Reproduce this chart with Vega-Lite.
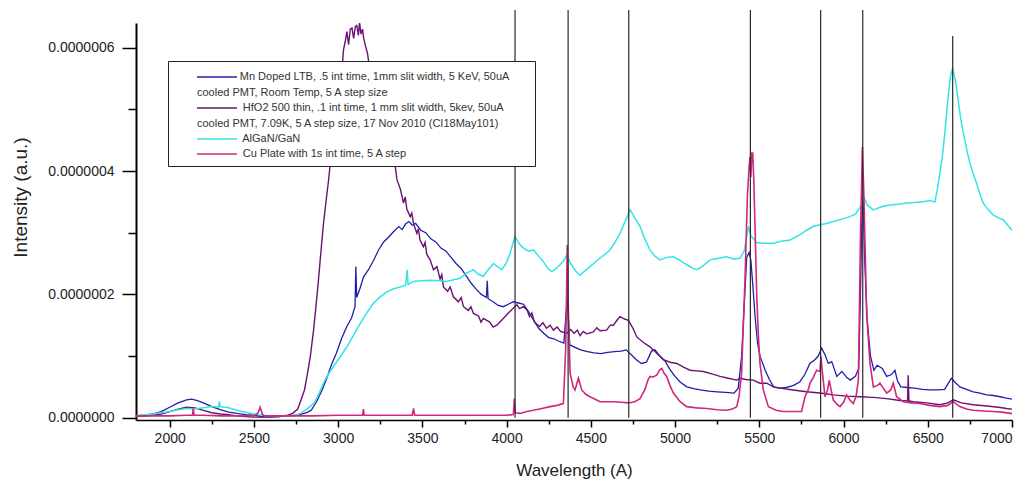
{
  "$schema": "https://vega.github.io/schema/vega-lite/v6.json",
  "width": 876,
  "height": 397,
  "autosize": {"type": "none"},
  "padding": {"left": 136, "top": 23, "right": 18, "bottom": 61},
  "background": "white",
  "config": {
    "view": {"stroke": null},
    "font": "Liberation Sans",
    "style": {"guide-label": {"lineHeight": 15.5}}
  },
  "datasets": {
    "lines": [
      {"w": 4050, "top": 6.61e-7}, {"w": 4365, "top": 6.61e-7}, {"w": 4725, "top": 6.61e-7},
      {"w": 5447, "top": 6.61e-7}, {"w": 5864, "top": 6.61e-7}, {"w": 6114, "top": 6.61e-7},
      {"w": 6648, "top": 6.19e-7}
    ],
    "spectra": [
      {"s":"Mn","w":1800,"v":0.03e-7},{"s":"Mn","w":1850,"v":0.04e-7},{"s":"Mn","w":1900,"v":0.06e-7},{"s":"Mn","w":1950,"v":0.10e-7},{"s":"Mn","w":2000,"v":0.17e-7},{"s":"Mn","w":2050,"v":0.24e-7},{"s":"Mn","w":2100,"v":0.29e-7},{"s":"Mn","w":2130,"v":0.30e-7},{"s":"Mn","w":2160,"v":0.28e-7},{"s":"Mn","w":2200,"v":0.24e-7},{"s":"Mn","w":2250,"v":0.18e-7},{"s":"Mn","w":2300,"v":0.13e-7},{"s":"Mn","w":2350,"v":0.09e-7},{"s":"Mn","w":2400,"v":0.07e-7},{"s":"Mn","w":2450,"v":0.05e-7},{"s":"Mn","w":2500,"v":0.04e-7},{"s":"Mn","w":2550,"v":0.02e-7},{"s":"Mn","w":2600,"v":0.02e-7},{"s":"Mn","w":2650,"v":0.02e-7},{"s":"Mn","w":2700,"v":0.03e-7},{"s":"Mn","w":2750,"v":0.04e-7},{"s":"Mn","w":2780,"v":0.06e-7},{"s":"Mn","w":2810,"v":0.08e-7},{"s":"Mn","w":2840,"v":0.12e-7},{"s":"Mn","w":2870,"v":0.25e-7},{"s":"Mn","w":2900,"v":0.42e-7},{"s":"Mn","w":2930,"v":0.62e-7},{"s":"Mn","w":2960,"v":0.86e-7},{"s":"Mn","w":2990,"v":1.05e-7},{"s":"Mn","w":3020,"v":1.28e-7},{"s":"Mn","w":3050,"v":1.47e-7},{"s":"Mn","w":3080,"v":1.62e-7},{"s":"Mn","w":3100,"v":1.80e-7},{"s":"Mn","w":3105,"v":2.45e-7},{"s":"Mn","w":3110,"v":1.95e-7},{"s":"Mn","w":3130,"v":2.10e-7},{"s":"Mn","w":3150,"v":2.28e-7},{"s":"Mn","w":3180,"v":2.40e-7},{"s":"Mn","w":3210,"v":2.55e-7},{"s":"Mn","w":3240,"v":2.72e-7},{"s":"Mn","w":3270,"v":2.85e-7},{"s":"Mn","w":3300,"v":2.93e-7},{"s":"Mn","w":3330,"v":3.02e-7},{"s":"Mn","w":3360,"v":3.10e-7},{"s":"Mn","w":3380,"v":3.05e-7},{"s":"Mn","w":3400,"v":3.14e-7},{"s":"Mn","w":3420,"v":3.18e-7},{"s":"Mn","w":3440,"v":3.12e-7},{"s":"Mn","w":3460,"v":3.15e-7},{"s":"Mn","w":3490,"v":3.04e-7},{"s":"Mn","w":3520,"v":3.00e-7},{"s":"Mn","w":3550,"v":2.90e-7},{"s":"Mn","w":3580,"v":2.85e-7},{"s":"Mn","w":3610,"v":2.75e-7},{"s":"Mn","w":3640,"v":2.70e-7},{"s":"Mn","w":3670,"v":2.60e-7},{"s":"Mn","w":3700,"v":2.50e-7},{"s":"Mn","w":3730,"v":2.42e-7},{"s":"Mn","w":3760,"v":2.30e-7},{"s":"Mn","w":3790,"v":2.18e-7},{"s":"Mn","w":3820,"v":2.08e-7},{"s":"Mn","w":3850,"v":2.00e-7},{"s":"Mn","w":3880,"v":1.95e-7},{"s":"Mn","w":3885,"v":2.22e-7},{"s":"Mn","w":3890,"v":1.93e-7},{"s":"Mn","w":3920,"v":1.88e-7},{"s":"Mn","w":3950,"v":1.82e-7},{"s":"Mn","w":3980,"v":1.80e-7},{"s":"Mn","w":4010,"v":1.84e-7},{"s":"Mn","w":4040,"v":1.88e-7},{"s":"Mn","w":4070,"v":1.86e-7},{"s":"Mn","w":4100,"v":1.84e-7},{"s":"Mn","w":4130,"v":1.72e-7},{"s":"Mn","w":4160,"v":1.58e-7},{"s":"Mn","w":4190,"v":1.45e-7},{"s":"Mn","w":4220,"v":1.37e-7},{"s":"Mn","w":4250,"v":1.30e-7},{"s":"Mn","w":4280,"v":1.28e-7},{"s":"Mn","w":4310,"v":1.24e-7},{"s":"Mn","w":4340,"v":1.21e-7},{"s":"Mn","w":4360,"v":1.95e-7},{"s":"Mn","w":4375,"v":1.18e-7},{"s":"Mn","w":4400,"v":1.15e-7},{"s":"Mn","w":4440,"v":1.10e-7},{"s":"Mn","w":4480,"v":1.07e-7},{"s":"Mn","w":4520,"v":1.05e-7},{"s":"Mn","w":4560,"v":1.04e-7},{"s":"Mn","w":4600,"v":1.06e-7},{"s":"Mn","w":4640,"v":1.07e-7},{"s":"Mn","w":4680,"v":1.08e-7},{"s":"Mn","w":4710,"v":1.10e-7},{"s":"Mn","w":4740,"v":1.02e-7},{"s":"Mn","w":4770,"v":0.94e-7},{"s":"Mn","w":4800,"v":0.88e-7},{"s":"Mn","w":4830,"v":0.90e-7},{"s":"Mn","w":4860,"v":1.08e-7},{"s":"Mn","w":4880,"v":1.10e-7},{"s":"Mn","w":4910,"v":1.00e-7},{"s":"Mn","w":4940,"v":0.92e-7},{"s":"Mn","w":4970,"v":0.78e-7},{"s":"Mn","w":5000,"v":0.67e-7},{"s":"Mn","w":5030,"v":0.58e-7},{"s":"Mn","w":5070,"v":0.50e-7},{"s":"Mn","w":5110,"v":0.47e-7},{"s":"Mn","w":5150,"v":0.45e-7},{"s":"Mn","w":5200,"v":0.43e-7},{"s":"Mn","w":5250,"v":0.42e-7},{"s":"Mn","w":5300,"v":0.41e-7},{"s":"Mn","w":5350,"v":0.40e-7},{"s":"Mn","w":5375,"v":0.48e-7},{"s":"Mn","w":5395,"v":1.00e-7},{"s":"Mn","w":5410,"v":1.80e-7},{"s":"Mn","w":5425,"v":2.60e-7},{"s":"Mn","w":5440,"v":2.68e-7},{"s":"Mn","w":5450,"v":2.55e-7},{"s":"Mn","w":5460,"v":2.20e-7},{"s":"Mn","w":5475,"v":1.64e-7},{"s":"Mn","w":5490,"v":1.20e-7},{"s":"Mn","w":5505,"v":0.99e-7},{"s":"Mn","w":5535,"v":0.77e-7},{"s":"Mn","w":5560,"v":0.62e-7},{"s":"Mn","w":5585,"v":0.50e-7},{"s":"Mn","w":5620,"v":0.48e-7},{"s":"Mn","w":5660,"v":0.49e-7},{"s":"Mn","w":5700,"v":0.52e-7},{"s":"Mn","w":5740,"v":0.58e-7},{"s":"Mn","w":5770,"v":0.70e-7},{"s":"Mn","w":5800,"v":0.88e-7},{"s":"Mn","w":5830,"v":0.94e-7},{"s":"Mn","w":5850,"v":1.00e-7},{"s":"Mn","w":5870,"v":1.13e-7},{"s":"Mn","w":5890,"v":1.02e-7},{"s":"Mn","w":5910,"v":0.88e-7},{"s":"Mn","w":5930,"v":0.91e-7},{"s":"Mn","w":5960,"v":0.67e-7},{"s":"Mn","w":5990,"v":0.75e-7},{"s":"Mn","w":6020,"v":0.65e-7},{"s":"Mn","w":6040,"v":0.61e-7},{"s":"Mn","w":6070,"v":0.67e-7},{"s":"Mn","w":6090,"v":0.80e-7},{"s":"Mn","w":6100,"v":1.96e-7},{"s":"Mn","w":6110,"v":3.40e-7},{"s":"Mn","w":6116,"v":3.58e-7},{"s":"Mn","w":6125,"v":2.60e-7},{"s":"Mn","w":6140,"v":1.60e-7},{"s":"Mn","w":6160,"v":1.00e-7},{"s":"Mn","w":6180,"v":0.77e-7},{"s":"Mn","w":6200,"v":0.85e-7},{"s":"Mn","w":6230,"v":0.80e-7},{"s":"Mn","w":6256,"v":0.67e-7},{"s":"Mn","w":6285,"v":0.70e-7},{"s":"Mn","w":6305,"v":0.77e-7},{"s":"Mn","w":6320,"v":0.60e-7},{"s":"Mn","w":6340,"v":0.50e-7},{"s":"Mn","w":6380,"v":0.49e-7},{"s":"Mn","w":6420,"v":0.48e-7},{"s":"Mn","w":6470,"v":0.46e-7},{"s":"Mn","w":6510,"v":0.45e-7},{"s":"Mn","w":6560,"v":0.45e-7},{"s":"Mn","w":6600,"v":0.46e-7},{"s":"Mn","w":6620,"v":0.55e-7},{"s":"Mn","w":6640,"v":0.64e-7},{"s":"Mn","w":6660,"v":0.58e-7},{"s":"Mn","w":6690,"v":0.50e-7},{"s":"Mn","w":6730,"v":0.46e-7},{"s":"Mn","w":6770,"v":0.42e-7},{"s":"Mn","w":6810,"v":0.40e-7},{"s":"Mn","w":6850,"v":0.37e-7},{"s":"Mn","w":6890,"v":0.36e-7},{"s":"Mn","w":6930,"v":0.34e-7},{"s":"Mn","w":6960,"v":0.32e-7},{"s":"Mn","w":7000,"v":0.30e-7},

      {"s":"HfO2","w":1800,"v":0.02e-7},{"s":"HfO2","w":1900,"v":0.04e-7},{"s":"HfO2","w":1950,"v":0.06e-7},{"s":"HfO2","w":2000,"v":0.10e-7},{"s":"HfO2","w":2050,"v":0.14e-7},{"s":"HfO2","w":2100,"v":0.17e-7},{"s":"HfO2","w":2150,"v":0.16e-7},{"s":"HfO2","w":2200,"v":0.12e-7},{"s":"HfO2","w":2250,"v":0.08e-7},{"s":"HfO2","w":2300,"v":0.06e-7},{"s":"HfO2","w":2350,"v":0.05e-7},{"s":"HfO2","w":2400,"v":0.03e-7},{"s":"HfO2","w":2450,"v":0.02e-7},{"s":"HfO2","w":2500,"v":0.01e-7},{"s":"HfO2","w":2550,"v":0.01e-7},{"s":"HfO2","w":2600,"v":0.01e-7},{"s":"HfO2","w":2650,"v":0.02e-7},{"s":"HfO2","w":2700,"v":0.04e-7},{"s":"HfO2","w":2730,"v":0.07e-7},{"s":"HfO2","w":2760,"v":0.14e-7},{"s":"HfO2","w":2780,"v":0.29e-7},{"s":"HfO2","w":2800,"v":0.45e-7},{"s":"HfO2","w":2815,"v":0.67e-7},{"s":"HfO2","w":2835,"v":1.00e-7},{"s":"HfO2","w":2854,"v":1.42e-7},{"s":"HfO2","w":2870,"v":1.85e-7},{"s":"HfO2","w":2883,"v":2.23e-7},{"s":"HfO2","w":2898,"v":2.70e-7},{"s":"HfO2","w":2913,"v":3.15e-7},{"s":"HfO2","w":2930,"v":3.55e-7},{"s":"HfO2","w":2943,"v":3.85e-7},{"s":"HfO2","w":2960,"v":4.30e-7},{"s":"HfO2","w":2980,"v":4.80e-7},{"s":"HfO2","w":3000,"v":5.20e-7},{"s":"HfO2","w":3020,"v":5.55e-7},{"s":"HfO2","w":3032,"v":5.97e-7},{"s":"HfO2","w":3042,"v":6.10e-7},{"s":"HfO2","w":3052,"v":6.26e-7},{"s":"HfO2","w":3062,"v":6.05e-7},{"s":"HfO2","w":3072,"v":6.30e-7},{"s":"HfO2","w":3082,"v":6.32e-7},{"s":"HfO2","w":3092,"v":6.15e-7},{"s":"HfO2","w":3102,"v":6.34e-7},{"s":"HfO2","w":3111,"v":6.36e-7},{"s":"HfO2","w":3120,"v":6.20e-7},{"s":"HfO2","w":3127,"v":6.40e-7},{"s":"HfO2","w":3136,"v":6.22e-7},{"s":"HfO2","w":3145,"v":6.30e-7},{"s":"HfO2","w":3150,"v":6.18e-7},{"s":"HfO2","w":3160,"v":6.05e-7},{"s":"HfO2","w":3174,"v":5.91e-7},{"s":"HfO2","w":3185,"v":5.70e-7},{"s":"HfO2","w":3220,"v":5.20e-7},{"s":"HfO2","w":3260,"v":4.70e-7},{"s":"HfO2","w":3300,"v":4.35e-7},{"s":"HfO2","w":3339,"v":4.07e-7},{"s":"HfO2","w":3349,"v":3.86e-7},{"s":"HfO2","w":3370,"v":3.70e-7},{"s":"HfO2","w":3388,"v":3.48e-7},{"s":"HfO2","w":3398,"v":3.58e-7},{"s":"HfO2","w":3408,"v":3.38e-7},{"s":"HfO2","w":3428,"v":3.26e-7},{"s":"HfO2","w":3437,"v":3.32e-7},{"s":"HfO2","w":3447,"v":3.15e-7},{"s":"HfO2","w":3467,"v":2.99e-7},{"s":"HfO2","w":3476,"v":3.06e-7},{"s":"HfO2","w":3486,"v":2.88e-7},{"s":"HfO2","w":3506,"v":2.77e-7},{"s":"HfO2","w":3516,"v":2.84e-7},{"s":"HfO2","w":3526,"v":2.65e-7},{"s":"HfO2","w":3546,"v":2.56e-7},{"s":"HfO2","w":3566,"v":2.40e-7},{"s":"HfO2","w":3586,"v":2.45e-7},{"s":"HfO2","w":3605,"v":2.25e-7},{"s":"HfO2","w":3615,"v":2.32e-7},{"s":"HfO2","w":3625,"v":2.12e-7},{"s":"HfO2","w":3650,"v":2.05e-7},{"s":"HfO2","w":3665,"v":2.12e-7},{"s":"HfO2","w":3684,"v":1.96e-7},{"s":"HfO2","w":3714,"v":1.88e-7},{"s":"HfO2","w":3730,"v":1.95e-7},{"s":"HfO2","w":3744,"v":1.80e-7},{"s":"HfO2","w":3773,"v":1.74e-7},{"s":"HfO2","w":3788,"v":1.80e-7},{"s":"HfO2","w":3803,"v":1.69e-7},{"s":"HfO2","w":3833,"v":1.65e-7},{"s":"HfO2","w":3848,"v":1.55e-7},{"s":"HfO2","w":3862,"v":1.61e-7},{"s":"HfO2","w":3900,"v":1.55e-7},{"s":"HfO2","w":3920,"v":1.47e-7},{"s":"HfO2","w":3942,"v":1.50e-7},{"s":"HfO2","w":3970,"v":1.58e-7},{"s":"HfO2","w":4001,"v":1.67e-7},{"s":"HfO2","w":4030,"v":1.75e-7},{"s":"HfO2","w":4061,"v":1.83e-7},{"s":"HfO2","w":4077,"v":1.77e-7},{"s":"HfO2","w":4100,"v":1.80e-7},{"s":"HfO2","w":4120,"v":1.75e-7},{"s":"HfO2","w":4136,"v":1.64e-7},{"s":"HfO2","w":4150,"v":1.70e-7},{"s":"HfO2","w":4165,"v":1.55e-7},{"s":"HfO2","w":4196,"v":1.48e-7},{"s":"HfO2","w":4215,"v":1.54e-7},{"s":"HfO2","w":4237,"v":1.45e-7},{"s":"HfO2","w":4258,"v":1.50e-7},{"s":"HfO2","w":4278,"v":1.42e-7},{"s":"HfO2","w":4300,"v":1.47e-7},{"s":"HfO2","w":4320,"v":1.40e-7},{"s":"HfO2","w":4357,"v":1.37e-7},{"s":"HfO2","w":4380,"v":1.43e-7},{"s":"HfO2","w":4400,"v":1.37e-7},{"s":"HfO2","w":4420,"v":1.42e-7},{"s":"HfO2","w":4436,"v":1.33e-7},{"s":"HfO2","w":4455,"v":1.40e-7},{"s":"HfO2","w":4475,"v":1.36e-7},{"s":"HfO2","w":4515,"v":1.39e-7},{"s":"HfO2","w":4535,"v":1.46e-7},{"s":"HfO2","w":4555,"v":1.41e-7},{"s":"HfO2","w":4594,"v":1.42e-7},{"s":"HfO2","w":4615,"v":1.50e-7},{"s":"HfO2","w":4634,"v":1.50e-7},{"s":"HfO2","w":4655,"v":1.58e-7},{"s":"HfO2","w":4673,"v":1.64e-7},{"s":"HfO2","w":4700,"v":1.60e-7},{"s":"HfO2","w":4723,"v":1.58e-7},{"s":"HfO2","w":4750,"v":1.45e-7},{"s":"HfO2","w":4773,"v":1.31e-7},{"s":"HfO2","w":4812,"v":1.22e-7},{"s":"HfO2","w":4851,"v":1.15e-7},{"s":"HfO2","w":4890,"v":1.05e-7},{"s":"HfO2","w":4930,"v":0.94e-7},{"s":"HfO2","w":4970,"v":0.90e-7},{"s":"HfO2","w":5010,"v":0.88e-7},{"s":"HfO2","w":5050,"v":0.82e-7},{"s":"HfO2","w":5089,"v":0.77e-7},{"s":"HfO2","w":5128,"v":0.76e-7},{"s":"HfO2","w":5168,"v":0.75e-7},{"s":"HfO2","w":5218,"v":0.71e-7},{"s":"HfO2","w":5267,"v":0.67e-7},{"s":"HfO2","w":5316,"v":0.64e-7},{"s":"HfO2","w":5366,"v":0.61e-7},{"s":"HfO2","w":5386,"v":0.64e-7},{"s":"HfO2","w":5420,"v":0.62e-7},{"s":"HfO2","w":5464,"v":0.61e-7},{"s":"HfO2","w":5504,"v":0.56e-7},{"s":"HfO2","w":5544,"v":0.56e-7},{"s":"HfO2","w":5583,"v":0.50e-7},{"s":"HfO2","w":5623,"v":0.48e-7},{"s":"HfO2","w":5700,"v":0.45e-7},{"s":"HfO2","w":5781,"v":0.42e-7},{"s":"HfO2","w":5860,"v":0.40e-7},{"s":"HfO2","w":5939,"v":0.37e-7},{"s":"HfO2","w":6018,"v":0.35e-7},{"s":"HfO2","w":6097,"v":0.34e-7},{"s":"HfO2","w":6176,"v":0.33e-7},{"s":"HfO2","w":6256,"v":0.31e-7},{"s":"HfO2","w":6335,"v":0.28e-7},{"s":"HfO2","w":6380,"v":0.27e-7},{"s":"HfO2","w":6384,"v":0.69e-7},{"s":"HfO2","w":6388,"v":0.27e-7},{"s":"HfO2","w":6414,"v":0.26e-7},{"s":"HfO2","w":6493,"v":0.24e-7},{"s":"HfO2","w":6572,"v":0.21e-7},{"s":"HfO2","w":6620,"v":0.24e-7},{"s":"HfO2","w":6651,"v":0.29e-7},{"s":"HfO2","w":6700,"v":0.24e-7},{"s":"HfO2","w":6770,"v":0.21e-7},{"s":"HfO2","w":6850,"v":0.19e-7},{"s":"HfO2","w":6920,"v":0.17e-7},{"s":"HfO2","w":6968,"v":0.15e-7},{"s":"HfO2","w":7000,"v":0.14e-7},

      {"s":"AlGaN","w":1800,"v":0.03e-7},{"s":"AlGaN","w":1900,"v":0.06e-7},{"s":"AlGaN","w":2000,"v":0.10e-7},{"s":"AlGaN","w":2050,"v":0.13e-7},{"s":"AlGaN","w":2100,"v":0.15e-7},{"s":"AlGaN","w":2150,"v":0.14e-7},{"s":"AlGaN","w":2200,"v":0.16e-7},{"s":"AlGaN","w":2250,"v":0.18e-7},{"s":"AlGaN","w":2290,"v":0.17e-7},{"s":"AlGaN","w":2295,"v":0.26e-7},{"s":"AlGaN","w":2300,"v":0.18e-7},{"s":"AlGaN","w":2350,"v":0.16e-7},{"s":"AlGaN","w":2400,"v":0.12e-7},{"s":"AlGaN","w":2450,"v":0.09e-7},{"s":"AlGaN","w":2500,"v":0.06e-7},{"s":"AlGaN","w":2550,"v":0.04e-7},{"s":"AlGaN","w":2600,"v":0.03e-7},{"s":"AlGaN","w":2650,"v":0.03e-7},{"s":"AlGaN","w":2700,"v":0.03e-7},{"s":"AlGaN","w":2750,"v":0.04e-7},{"s":"AlGaN","w":2775,"v":0.07e-7},{"s":"AlGaN","w":2810,"v":0.13e-7},{"s":"AlGaN","w":2854,"v":0.23e-7},{"s":"AlGaN","w":2880,"v":0.35e-7},{"s":"AlGaN","w":2913,"v":0.56e-7},{"s":"AlGaN","w":2940,"v":0.70e-7},{"s":"AlGaN","w":2972,"v":0.83e-7},{"s":"AlGaN","w":3010,"v":0.98e-7},{"s":"AlGaN","w":3052,"v":1.15e-7},{"s":"AlGaN","w":3090,"v":1.33e-7},{"s":"AlGaN","w":3131,"v":1.53e-7},{"s":"AlGaN","w":3170,"v":1.70e-7},{"s":"AlGaN","w":3210,"v":1.86e-7},{"s":"AlGaN","w":3250,"v":1.96e-7},{"s":"AlGaN","w":3289,"v":2.04e-7},{"s":"AlGaN","w":3330,"v":2.09e-7},{"s":"AlGaN","w":3368,"v":2.12e-7},{"s":"AlGaN","w":3400,"v":2.15e-7},{"s":"AlGaN","w":3410,"v":2.40e-7},{"s":"AlGaN","w":3415,"v":2.16e-7},{"s":"AlGaN","w":3447,"v":2.21e-7},{"s":"AlGaN","w":3490,"v":2.22e-7},{"s":"AlGaN","w":3546,"v":2.23e-7},{"s":"AlGaN","w":3600,"v":2.22e-7},{"s":"AlGaN","w":3645,"v":2.21e-7},{"s":"AlGaN","w":3690,"v":2.24e-7},{"s":"AlGaN","w":3724,"v":2.26e-7},{"s":"AlGaN","w":3760,"v":2.34e-7},{"s":"AlGaN","w":3803,"v":2.40e-7},{"s":"AlGaN","w":3830,"v":2.33e-7},{"s":"AlGaN","w":3862,"v":2.29e-7},{"s":"AlGaN","w":3890,"v":2.40e-7},{"s":"AlGaN","w":3922,"v":2.50e-7},{"s":"AlGaN","w":3950,"v":2.44e-7},{"s":"AlGaN","w":3972,"v":2.40e-7},{"s":"AlGaN","w":4000,"v":2.52e-7},{"s":"AlGaN","w":4021,"v":2.67e-7},{"s":"AlGaN","w":4050,"v":2.94e-7},{"s":"AlGaN","w":4075,"v":2.82e-7},{"s":"AlGaN","w":4100,"v":2.75e-7},{"s":"AlGaN","w":4130,"v":2.70e-7},{"s":"AlGaN","w":4159,"v":2.72e-7},{"s":"AlGaN","w":4190,"v":2.62e-7},{"s":"AlGaN","w":4218,"v":2.53e-7},{"s":"AlGaN","w":4245,"v":2.42e-7},{"s":"AlGaN","w":4268,"v":2.37e-7},{"s":"AlGaN","w":4295,"v":2.42e-7},{"s":"AlGaN","w":4317,"v":2.48e-7},{"s":"AlGaN","w":4340,"v":2.55e-7},{"s":"AlGaN","w":4357,"v":2.64e-7},{"s":"AlGaN","w":4380,"v":2.50e-7},{"s":"AlGaN","w":4410,"v":2.38e-7},{"s":"AlGaN","w":4436,"v":2.31e-7},{"s":"AlGaN","w":4465,"v":2.38e-7},{"s":"AlGaN","w":4495,"v":2.45e-7},{"s":"AlGaN","w":4525,"v":2.52e-7},{"s":"AlGaN","w":4555,"v":2.59e-7},{"s":"AlGaN","w":4585,"v":2.65e-7},{"s":"AlGaN","w":4614,"v":2.72e-7},{"s":"AlGaN","w":4645,"v":2.85e-7},{"s":"AlGaN","w":4673,"v":2.99e-7},{"s":"AlGaN","w":4703,"v":3.18e-7},{"s":"AlGaN","w":4733,"v":3.37e-7},{"s":"AlGaN","w":4760,"v":3.25e-7},{"s":"AlGaN","w":4792,"v":3.10e-7},{"s":"AlGaN","w":4820,"v":2.90e-7},{"s":"AlGaN","w":4851,"v":2.72e-7},{"s":"AlGaN","w":4880,"v":2.62e-7},{"s":"AlGaN","w":4911,"v":2.56e-7},{"s":"AlGaN","w":4950,"v":2.60e-7},{"s":"AlGaN","w":4990,"v":2.61e-7},{"s":"AlGaN","w":5030,"v":2.55e-7},{"s":"AlGaN","w":5069,"v":2.48e-7},{"s":"AlGaN","w":5100,"v":2.43e-7},{"s":"AlGaN","w":5128,"v":2.40e-7},{"s":"AlGaN","w":5160,"v":2.45e-7},{"s":"AlGaN","w":5207,"v":2.56e-7},{"s":"AlGaN","w":5250,"v":2.58e-7},{"s":"AlGaN","w":5306,"v":2.61e-7},{"s":"AlGaN","w":5350,"v":2.57e-7},{"s":"AlGaN","w":5386,"v":2.59e-7},{"s":"AlGaN","w":5410,"v":2.70e-7},{"s":"AlGaN","w":5435,"v":3.10e-7},{"s":"AlGaN","w":5450,"v":2.95e-7},{"s":"AlGaN","w":5485,"v":2.84e-7},{"s":"AlGaN","w":5530,"v":2.83e-7},{"s":"AlGaN","w":5583,"v":2.83e-7},{"s":"AlGaN","w":5630,"v":2.86e-7},{"s":"AlGaN","w":5682,"v":2.88e-7},{"s":"AlGaN","w":5730,"v":2.95e-7},{"s":"AlGaN","w":5781,"v":3.04e-7},{"s":"AlGaN","w":5820,"v":3.10e-7},{"s":"AlGaN","w":5860,"v":3.13e-7},{"s":"AlGaN","w":5900,"v":3.15e-7},{"s":"AlGaN","w":5939,"v":3.18e-7},{"s":"AlGaN","w":5990,"v":3.22e-7},{"s":"AlGaN","w":6038,"v":3.26e-7},{"s":"AlGaN","w":6070,"v":3.30e-7},{"s":"AlGaN","w":6101,"v":3.42e-7},{"s":"AlGaN","w":6121,"v":3.58e-7},{"s":"AlGaN","w":6140,"v":3.45e-7},{"s":"AlGaN","w":6177,"v":3.37e-7},{"s":"AlGaN","w":6225,"v":3.42e-7},{"s":"AlGaN","w":6275,"v":3.45e-7},{"s":"AlGaN","w":6325,"v":3.46e-7},{"s":"AlGaN","w":6374,"v":3.48e-7},{"s":"AlGaN","w":6420,"v":3.49e-7},{"s":"AlGaN","w":6473,"v":3.50e-7},{"s":"AlGaN","w":6510,"v":3.52e-7},{"s":"AlGaN","w":6542,"v":3.50e-7},{"s":"AlGaN","w":6557,"v":3.70e-7},{"s":"AlGaN","w":6572,"v":3.96e-7},{"s":"AlGaN","w":6587,"v":4.25e-7},{"s":"AlGaN","w":6601,"v":4.61e-7},{"s":"AlGaN","w":6621,"v":5.21e-7},{"s":"AlGaN","w":6635,"v":5.53e-7},{"s":"AlGaN","w":6647,"v":5.67e-7},{"s":"AlGaN","w":6657,"v":5.55e-7},{"s":"AlGaN","w":6667,"v":5.42e-7},{"s":"AlGaN","w":6680,"v":5.15e-7},{"s":"AlGaN","w":6691,"v":4.94e-7},{"s":"AlGaN","w":6705,"v":4.70e-7},{"s":"AlGaN","w":6720,"v":4.50e-7},{"s":"AlGaN","w":6735,"v":4.30e-7},{"s":"AlGaN","w":6750,"v":4.13e-7},{"s":"AlGaN","w":6770,"v":3.95e-7},{"s":"AlGaN","w":6790,"v":3.80e-7},{"s":"AlGaN","w":6810,"v":3.62e-7},{"s":"AlGaN","w":6829,"v":3.48e-7},{"s":"AlGaN","w":6860,"v":3.37e-7},{"s":"AlGaN","w":6888,"v":3.29e-7},{"s":"AlGaN","w":6920,"v":3.24e-7},{"s":"AlGaN","w":6948,"v":3.21e-7},{"s":"AlGaN","w":6975,"v":3.12e-7},{"s":"AlGaN","w":7000,"v":3.04e-7},

      {"s":"Cu","w":1800,"v":0.03e-7},{"s":"Cu","w":1900,"v":0.03e-7},{"s":"Cu","w":2000,"v":0.03e-7},{"s":"Cu","w":2100,"v":0.04e-7},{"s":"Cu","w":2135,"v":0.04e-7},{"s":"Cu","w":2140,"v":0.15e-7},{"s":"Cu","w":2145,"v":0.04e-7},{"s":"Cu","w":2200,"v":0.04e-7},{"s":"Cu","w":2300,"v":0.03e-7},{"s":"Cu","w":2400,"v":0.03e-7},{"s":"Cu","w":2500,"v":0.03e-7},{"s":"Cu","w":2525,"v":0.08e-7},{"s":"Cu","w":2537,"v":0.17e-7},{"s":"Cu","w":2550,"v":0.06e-7},{"s":"Cu","w":2560,"v":0.03e-7},{"s":"Cu","w":2700,"v":0.03e-7},{"s":"Cu","w":2850,"v":0.03e-7},{"s":"Cu","w":3000,"v":0.04e-7},{"s":"Cu","w":3145,"v":0.04e-7},{"s":"Cu","w":3150,"v":0.14e-7},{"s":"Cu","w":3155,"v":0.04e-7},{"s":"Cu","w":3300,"v":0.04e-7},{"s":"Cu","w":3440,"v":0.04e-7},{"s":"Cu","w":3447,"v":0.15e-7},{"s":"Cu","w":3454,"v":0.04e-7},{"s":"Cu","w":3600,"v":0.04e-7},{"s":"Cu","w":3800,"v":0.04e-7},{"s":"Cu","w":4000,"v":0.04e-7},{"s":"Cu","w":4040,"v":0.05e-7},{"s":"Cu","w":4046,"v":0.31e-7},{"s":"Cu","w":4052,"v":0.08e-7},{"s":"Cu","w":4080,"v":0.07e-7},{"s":"Cu","w":4120,"v":0.10e-7},{"s":"Cu","w":4159,"v":0.12e-7},{"s":"Cu","w":4210,"v":0.15e-7},{"s":"Cu","w":4258,"v":0.18e-7},{"s":"Cu","w":4300,"v":0.20e-7},{"s":"Cu","w":4337,"v":0.23e-7},{"s":"Cu","w":4351,"v":1.15e-7},{"s":"Cu","w":4360,"v":2.80e-7},{"s":"Cu","w":4367,"v":1.69e-7},{"s":"Cu","w":4377,"v":0.72e-7},{"s":"Cu","w":4395,"v":0.50e-7},{"s":"Cu","w":4406,"v":0.45e-7},{"s":"Cu","w":4426,"v":0.64e-7},{"s":"Cu","w":4446,"v":0.45e-7},{"s":"Cu","w":4470,"v":0.38e-7},{"s":"Cu","w":4495,"v":0.34e-7},{"s":"Cu","w":4525,"v":0.30e-7},{"s":"Cu","w":4555,"v":0.26e-7},{"s":"Cu","w":4600,"v":0.26e-7},{"s":"Cu","w":4634,"v":0.26e-7},{"s":"Cu","w":4680,"v":0.25e-7},{"s":"Cu","w":4723,"v":0.24e-7},{"s":"Cu","w":4760,"v":0.26e-7},{"s":"Cu","w":4792,"v":0.31e-7},{"s":"Cu","w":4820,"v":0.45e-7},{"s":"Cu","w":4840,"v":0.62e-7},{"s":"Cu","w":4851,"v":0.67e-7},{"s":"Cu","w":4870,"v":0.66e-7},{"s":"Cu","w":4891,"v":0.69e-7},{"s":"Cu","w":4910,"v":0.78e-7},{"s":"Cu","w":4921,"v":0.80e-7},{"s":"Cu","w":4935,"v":0.72e-7},{"s":"Cu","w":4950,"v":0.67e-7},{"s":"Cu","w":4970,"v":0.52e-7},{"s":"Cu","w":4990,"v":0.40e-7},{"s":"Cu","w":5030,"v":0.26e-7},{"s":"Cu","w":5069,"v":0.18e-7},{"s":"Cu","w":5128,"v":0.16e-7},{"s":"Cu","w":5188,"v":0.15e-7},{"s":"Cu","w":5250,"v":0.13e-7},{"s":"Cu","w":5306,"v":0.12e-7},{"s":"Cu","w":5340,"v":0.14e-7},{"s":"Cu","w":5366,"v":0.18e-7},{"s":"Cu","w":5380,"v":0.35e-7},{"s":"Cu","w":5395,"v":0.72e-7},{"s":"Cu","w":5405,"v":1.50e-7},{"s":"Cu","w":5415,"v":2.23e-7},{"s":"Cu","w":5429,"v":3.58e-7},{"s":"Cu","w":5440,"v":4.10e-7},{"s":"Cu","w":5445,"v":4.23e-7},{"s":"Cu","w":5450,"v":3.90e-7},{"s":"Cu","w":5455,"v":4.29e-7},{"s":"Cu","w":5461,"v":4.29e-7},{"s":"Cu","w":5468,"v":3.80e-7},{"s":"Cu","w":5475,"v":3.04e-7},{"s":"Cu","w":5485,"v":1.96e-7},{"s":"Cu","w":5495,"v":1.30e-7},{"s":"Cu","w":5504,"v":0.88e-7},{"s":"Cu","w":5524,"v":0.45e-7},{"s":"Cu","w":5554,"v":0.18e-7},{"s":"Cu","w":5600,"v":0.12e-7},{"s":"Cu","w":5642,"v":0.10e-7},{"s":"Cu","w":5700,"v":0.10e-7},{"s":"Cu","w":5751,"v":0.10e-7},{"s":"Cu","w":5771,"v":0.34e-7},{"s":"Cu","w":5790,"v":0.45e-7},{"s":"Cu","w":5801,"v":0.56e-7},{"s":"Cu","w":5820,"v":0.65e-7},{"s":"Cu","w":5840,"v":0.77e-7},{"s":"Cu","w":5860,"v":0.75e-7},{"s":"Cu","w":5866,"v":0.99e-7},{"s":"Cu","w":5872,"v":0.80e-7},{"s":"Cu","w":5890,"v":0.34e-7},{"s":"Cu","w":5905,"v":0.45e-7},{"s":"Cu","w":5915,"v":0.61e-7},{"s":"Cu","w":5930,"v":0.40e-7},{"s":"Cu","w":5939,"v":0.29e-7},{"s":"Cu","w":5960,"v":0.22e-7},{"s":"Cu","w":5979,"v":0.18e-7},{"s":"Cu","w":6000,"v":0.25e-7},{"s":"Cu","w":6018,"v":0.37e-7},{"s":"Cu","w":6040,"v":0.28e-7},{"s":"Cu","w":6058,"v":0.23e-7},{"s":"Cu","w":6075,"v":0.35e-7},{"s":"Cu","w":6088,"v":0.61e-7},{"s":"Cu","w":6101,"v":3.04e-7},{"s":"Cu","w":6112,"v":4.39e-7},{"s":"Cu","w":6121,"v":3.58e-7},{"s":"Cu","w":6137,"v":1.69e-7},{"s":"Cu","w":6157,"v":0.88e-7},{"s":"Cu","w":6177,"v":0.50e-7},{"s":"Cu","w":6200,"v":0.52e-7},{"s":"Cu","w":6216,"v":0.56e-7},{"s":"Cu","w":6236,"v":0.48e-7},{"s":"Cu","w":6256,"v":0.40e-7},{"s":"Cu","w":6280,"v":0.45e-7},{"s":"Cu","w":6295,"v":0.56e-7},{"s":"Cu","w":6315,"v":0.34e-7},{"s":"Cu","w":6355,"v":0.26e-7},{"s":"Cu","w":6400,"v":0.24e-7},{"s":"Cu","w":6453,"v":0.23e-7},{"s":"Cu","w":6510,"v":0.20e-7},{"s":"Cu","w":6572,"v":0.18e-7},{"s":"Cu","w":6620,"v":0.20e-7},{"s":"Cu","w":6651,"v":0.26e-7},{"s":"Cu","w":6690,"v":0.18e-7},{"s":"Cu","w":6730,"v":0.14e-7},{"s":"Cu","w":6770,"v":0.12e-7},{"s":"Cu","w":6830,"v":0.11e-7},{"s":"Cu","w":6888,"v":0.10e-7},{"s":"Cu","w":6940,"v":0.09e-7},{"s":"Cu","w":6988,"v":0.07e-7},{"s":"Cu","w":7000,"v":0.07e-7}
    ]
  },
  "layer": [
    {
      "data": {"name": "spectra"},
      "mark": {"type": "line", "clip": true},
      "encoding": {
        "x": {
          "field": "w", "type": "quantitative",
          "scale": {"domain": [1800, 7000], "nice": false, "zero": false},
          "axis": {
            "title": "Wavelength (A)",
            "values": [2000,2250,2500,2750,3000,3250,3500,3750,4000,4250,4500,4750,5000,5250,5500,5750,6000,6250,6500,6750,7000],
            "labelExpr": "datum.value % 500 == 0 ? datum.label : ''",
            "format": "d",
            "grid": false,
            "domainColor": "#000000", "domainWidth": 1.5,
            "tickColor": "#000000", "tickWidth": 1.5,
            "tickSize": {"condition": {"test": "datum.value % 500 == 0", "value": 7}, "value": 4},
            "labelFontSize": 14, "labelColor": "#222222", "labelPadding": 4,
            "labelFont": "Liberation Sans",
            "titleFont": "Liberation Sans", "titleFontSize": 17, "titleFontWeight": "normal",
            "titleColor": "#222222", "titlePadding": 17
          }
        },
        "y": {
          "field": "v", "type": "quantitative",
          "scale": {"domain": [-3.7e-9, 6.4e-7], "nice": false, "zero": false},
          "axis": {
            "title": "Intensity (a.u.)",
            "values": [0, 1e-7, 2e-7, 3e-7, 4e-7, 5e-7, 6e-7],
            "format": ".7f",
            "labelExpr": "round(datum.value * 1e7) % 2 == 0 ? datum.label : ''",
            "grid": false,
            "domainColor": "#000000", "domainWidth": 2,
            "tickColor": "#000000", "tickWidth": 1.5,
            "tickSize": {"condition": {"test": "round(datum.value * 1e7) % 2 == 0", "value": 14}, "value": 8},
            "labelFontSize": 14, "labelColor": "#222222", "labelPadding": 8,
            "labelFont": "Liberation Sans",
            "titleFont": "Liberation Sans", "titleFontSize": 19, "titleFontWeight": "normal",
            "titleColor": "#222222",
            "titleX": -116, "titleY": 174, "titleAlign": "center", "titleBaseline": "middle", "titleAngle": -90
          }
        },
        "strokeWidth": {
          "field": "s", "type": "nominal",
          "scale": {"domain": ["Mn", "HfO2", "AlGaN", "Cu"], "range": [1.3, 1.6, 2.2, 1.2]},
          "legend": null
        },
        "color": {
          "field": "s", "type": "nominal",
          "scale": {"domain": ["Mn", "HfO2", "AlGaN", "Cu"], "range": ["#1f1fa8", "#6a1272", "#35e3e6", "#d0287c"]},
          "legend": {
            "orient": "none", "legendX": 32, "legendY": 38,
            "title": null,
            "padding": 7,
            "strokeColor": "#222222", "fillColor": "#ffffff",
            "symbolType": "M-2.5,0H2.5", "symbolSize": 256, "symbolStrokeWidth": 1.5,
            "symbolOffset": 33,
            "labelFont": "Liberation Sans", "labelFontSize": 11, "labelColor": "#333333",
            "labelLimit": 600, "labelOffset": -29, "rowPadding": 1,
            "labelExpr": "datum.label == 'Mn' ? ['\u200b\u00a0\u00a0\u00a0\u00a0\u00a0\u00a0\u00a0\u00a0\u00a0\u00a0\u00a0\u00a0\u00a0\u00a0Mn Doped LTB, .5 int time, 1mm slit width, 5 KeV, 50uA\u00a0\u00a0\u00a0\u00a0\u00a0\u00a0\u200b', 'cooled PMT, Room Temp, 5 A step size'] : datum.label == 'HfO2' ? ['\u200b\u00a0\u00a0\u00a0\u00a0\u00a0\u00a0\u00a0\u00a0\u00a0\u00a0\u00a0\u00a0\u00a0\u00a0 HfO2 500 thin, .1 int time, 1 mm slit width, 5kev, 50uA', 'cooled PMT, 7.09K, 5 A step size, 17 Nov 2010 (CI18May101)'] : datum.label == 'AlGaN' ? '\u200b\u00a0\u00a0\u00a0\u00a0\u00a0\u00a0\u00a0\u00a0\u00a0\u00a0\u00a0\u00a0\u00a0\u00a0 AlGaN/GaN' : '\u200b\u00a0\u00a0\u00a0\u00a0\u00a0\u00a0\u00a0\u00a0\u00a0\u00a0\u00a0\u00a0\u00a0\u00a0 Cu Plate with 1s int time, 5 A step'"
          }
        }
      }
    },
    {
      "data": {"name": "lines"},
      "mark": {"type": "rule", "color": "#2a2a2a", "strokeWidth": 1.2},
      "encoding": {
        "x": {"field": "w", "type": "quantitative"},
        "y": {"field": "top", "type": "quantitative"},
        "y2": {"datum": 0}
      }
    }
  ]
}
